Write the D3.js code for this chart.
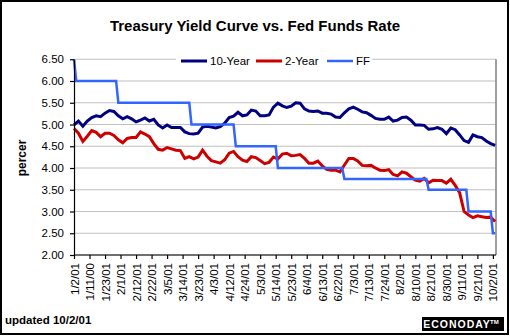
<!DOCTYPE html>
<html><head><meta charset="utf-8">
<script src="https://cdn.jsdelivr.net/npm/d3@7"></script>
<style>body{margin:0;background:#fff}svg{display:block}text{font-family:Arial,"Liberation Sans",sans-serif}</style>
</head><body><svg id="c" width="510" height="336"></svg>
<script>
const title = "Treasury Yield Curve vs. Fed Funds Rate";
const xLabels = ["1/2/01","1/11/00","1/23/01","2/1/01","2/12/01","2/22/01","3/5/01","3/14/01","3/23/01","4/3/01","4/12/01","4/24/01","5/3/01","5/14/01","5/23/01","6/4/01","6/13/01","6/22/01","7/3/01","7/13/01","7/24/01","8/2/01","8/10/01","8/21/01","8/30/01","9/11/01","9/21/01","10/2/01"];
const pointsPerLabel = 7;   // trading days between labels
const sampleStep = 2;       // series below sampled every 2 trading days
const lastIndex = 190;
const seriesNames = ["10-Year","2-Year","FF"];
const tenYear = [4.99,5.08,4.96,5.08,5.16,5.20,5.18,5.26,5.32,5.30,5.20,5.13,5.18,5.13,5.06,5.10,5.15,5.08,5.12,4.99,
 4.92,4.99,4.93,4.93,4.93,4.83,4.79,4.78,4.80,4.94,4.96,4.94,4.92,4.95,5.03,5.16,5.19,5.28,5.20,5.22,
 5.33,5.31,5.20,5.20,5.22,5.40,5.49,5.43,5.39,5.42,5.50,5.49,5.36,5.31,5.30,5.31,5.26,5.26,5.24,5.17,
 5.16,5.27,5.36,5.40,5.35,5.29,5.27,5.21,5.14,5.12,5.12,5.17,5.08,5.10,5.16,5.17,5.10,4.99,4.99,4.98,
 4.89,4.90,4.93,4.89,4.79,4.92,4.88,4.76,4.63,4.59,4.76,4.72,4.70,4.62,4.56,4.52];
const twoYear = [4.91,4.80,4.61,4.73,4.86,4.82,4.72,4.80,4.80,4.75,4.65,4.58,4.68,4.70,4.70,4.83,4.78,4.72,4.56,4.43,
 4.41,4.47,4.44,4.41,4.40,4.22,4.26,4.21,4.25,4.41,4.27,4.17,4.14,4.11,4.19,4.34,4.38,4.26,4.18,4.15,
 4.26,4.24,4.17,4.10,4.13,4.25,4.21,4.32,4.34,4.28,4.29,4.31,4.22,4.11,4.11,4.16,4.05,3.97,3.95,3.95,
 3.91,4.07,4.22,4.22,4.16,4.06,4.05,4.06,4.00,3.95,3.94,3.96,3.85,3.82,3.91,3.88,3.80,3.72,3.70,3.76,
 3.66,3.72,3.71,3.71,3.65,3.74,3.60,3.43,3.00,2.92,2.86,2.90,2.88,2.86,2.87,2.77];
const ffRates = [6.50,6.00,5.50,5.00,4.50,4.00,3.75,3.50,3.00,2.50];
const ffChangeIdx = [0,1,20,53,73,92,122,160,178,189];
const yTicks = [2.0,2.5,3.0,3.5,4.0,4.5,5.0,5.5,6.0,6.5];
const colors = ["#000080","#cc0000","#3366ff"];

const svg = d3.select("#c");
const L = 74, R = 496, T = 59.25, B = 255;
const x = d3.scaleLinear().domain([0, 190.4]).range([L, R]);
const y = d3.scaleLinear().domain([2, 6.5]).range([B, T]);

svg.append("rect").attr("x",1).attr("y",1).attr("width",507).attr("height",333)
  .attr("fill","#fff").attr("stroke","#000").attr("stroke-width",2);

svg.append("text").attr("x",255).attr("y",31).attr("text-anchor","middle")
  .attr("font-size",15).attr("font-weight","bold").text(title);

// gridlines
svg.append("g").selectAll("line").data(yTicks).join("line")
  .attr("x1",L).attr("x2",R).attr("y1",d=>y(d)).attr("y2",d=>y(d))
  .attr("stroke","#c0c0c0").attr("stroke-width",1.2);
svg.append("line").attr("x1",R).attr("x2",R).attr("y1",T).attr("y2",B)
  .attr("stroke","#808080").attr("stroke-width",1.5);

// build FF daily series
const ff = [];
for (let i = 0; i <= lastIndex; i++) {
  let r = ffRates[0];
  ffChangeIdx.forEach((c,k)=>{ if (i >= c) r = ffRates[k]; });
  ff.push({i, v: r});
}
const s10 = tenYear.map((v,k)=>({i:k*sampleStep, v}));
const s2 = twoYear.map((v,k)=>({i:k*sampleStep, v}));
const line = d3.line().x(d=>x(d.i)).y(d=>y(d.v));
[[s10,colors[0],3],[s2,colors[1],3],[ff,colors[2],2.5]].forEach(([d,c,w])=>{
  svg.append("path").datum(d).attr("d",line).attr("fill","none")
    .attr("stroke",c).attr("stroke-width",w).attr("stroke-linejoin","miter");
});

// axes
const yAxis = d3.axisLeft(y).tickValues(yTicks).tickFormat(d3.format(".2f")).tickSize(4).tickSizeOuter(0).tickPadding(6);
const gy = svg.append("g").attr("transform",`translate(${L},0)`).call(yAxis);
gy.selectAll("text").attr("font-size",11.5).attr("fill","#000").attr("font-family","Arial, 'Liberation Sans', sans-serif");
gy.selectAll("line,path").attr("stroke","#000").attr("stroke-width",1.2);

const xTicks = d3.range(0, lastIndex, pointsPerLabel);
const xAxis = d3.axisBottom(x).tickValues(xTicks).tickFormat(d=>xLabels[d/pointsPerLabel]).tickSize(4).tickSizeOuter(0);
const gx = svg.append("g").attr("transform",`translate(0,${B})`).call(xAxis);
gx.select(".domain").attr("d",`M${L},0H${R}`);
gx.selectAll("line,path").attr("stroke","#000").attr("stroke-width",1.2);
gx.selectAll("text").attr("font-size",11.5).attr("fill","#000").attr("font-family","Arial, 'Liberation Sans', sans-serif")
  .attr("transform","rotate(-90)").attr("text-anchor","end")
  .attr("x",-8).attr("y",0).attr("dy","0.35em");

// y title
svg.append("text").attr("transform","translate(26,158) rotate(-90)").attr("text-anchor","middle")
  .attr("font-size",12).attr("font-weight","bold").text("percer");

// legend
svg.append("rect").attr("x",176).attr("y",52).attr("width",196).attr("height",17).attr("fill","#fff");
const legX = [181, 256, 327];
seriesNames.forEach((n,k)=>{
  svg.append("line").attr("x1",legX[k]).attr("x2",legX[k]+26).attr("y1",61).attr("y2",61)
    .attr("stroke",colors[k]).attr("stroke-width",k===2?2.5:3);
  svg.append("text").attr("x",legX[k]+29).attr("y",65).attr("font-size",11.5).text(n);
});

// footer
svg.append("text").attr("x",5).attr("y",324).attr("font-size",11.5).attr("font-weight","bold").text("updated 10/2/01");
svg.append("rect").attr("x",422).attr("y",317).attr("width",82).attr("height",14).attr("fill","#000");
svg.append("text").attr("x",457).attr("y",328).attr("text-anchor","middle").attr("fill","#fff")
  .attr("font-size",10.5).attr("font-weight","bold").attr("letter-spacing",1).text("ECONODAY");
svg.append("text").attr("x",490).attr("y",324).attr("fill","#fff").attr("font-size",6).attr("font-weight","bold").text("TM");
</script></body></html>
